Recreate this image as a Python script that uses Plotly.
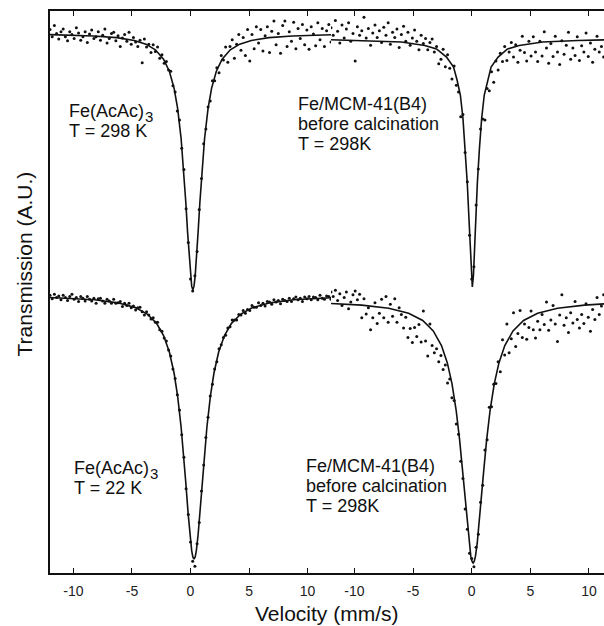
import plotly.graph_objects as go

# Mössbauer spectra: Fe(AcAc)3 (left) and Fe/MCM-41(B4) before calcination (right)
# Channel calibration: velocity of channel i = VEL_START + VEL_STEP * i  (mm/s)
VEL_START = -12.0
VEL_STEP = 0.1875

# Measured transmission (A.U.) per channel
FEACAC_298K = [
    96.7, 95.4, 97.4, 96.0, 95.0, 96.3, 96.8, 95.4, 94.7, 96.3,
    95.8, 95.1, 97.0, 96.1, 94.8, 95.4, 96.3, 94.4, 95.9, 96.6,
    95.1, 95.4, 96.3, 94.8, 95.7, 96.8, 94.3, 95.1, 96.0, 96.2,
    94.7, 95.6, 93.7, 95.2, 95.8, 94.6, 96.2, 94.1, 95.3, 94.5,
    93.7, 94.8, 90.8, 95.0, 93.6, 94.1, 92.6, 94.0, 92.8, 93.6,
    91.6, 92.2, 90.7, 91.0, 89.5, 89.3, 86.7, 85.6, 82.2, 80.6,
    75.6, 71.8, 64.8, 58.8, 52.3, 50.2, 52.9, 57.2, 64.7, 70.2,
    76.4, 79.0, 82.9, 84.0, 87.6, 87.6, 89.9, 89.0, 92.1, 91.3,
    93.6, 90.9, 93.7, 94.9, 91.6, 94.1, 95.8, 93.0, 95.3, 92.1,
    96.7, 91.1, 95.8, 93.3, 97.2, 94.3, 96.7, 92.9, 95.6, 97.2,
    92.6, 96.4, 98.2, 94.0, 96.0, 92.5, 97.4, 98.2, 93.7, 96.3,
    94.6, 98.0, 93.3, 96.9, 95.1, 97.6, 94.0, 96.6, 93.2, 97.2,
    95.9, 93.8, 97.9, 94.9, 96.9, 93.7, 96.5, 97.6, 94.5,
]
MCM41_TOP = [
    97.0, 95.7, 98.3, 96.4, 94.3, 97.5, 95.2, 96.8, 97.9, 94.6,
    96.0, 91.1, 97.2, 95.7, 96.5, 98.9, 95.2, 96.9, 93.9, 96.1,
    97.5, 95.3, 96.5, 94.4, 97.1, 95.7, 97.9, 94.1, 96.2, 95.3,
    96.8, 93.5, 95.8, 97.3, 94.6, 96.2, 93.9, 95.2, 96.6, 94.6,
    93.1, 95.7, 94.2, 95.1, 93.1, 94.4, 95.0, 92.7, 93.7, 90.6,
    91.4, 93.2, 90.1, 92.2, 89.8, 87.9, 90.2, 86.8, 85.6, 81.2,
    81.6, 74.8, 69.6, 60.1, 52.3, 54.5, 65.5, 71.9, 79.0, 80.8,
    80.6, 86.2, 85.8, 89.2, 87.3, 91.1, 89.5, 92.5, 91.0, 93.7,
    91.2, 92.7, 94.4, 91.8, 94.0, 90.9, 93.0, 95.5, 92.6, 91.1,
    94.6, 92.0, 95.4, 92.7, 91.0, 94.6, 92.0, 96.3, 93.4, 90.7,
    94.2, 91.9, 95.5, 92.7, 90.5, 94.7, 92.3, 93.9, 96.2, 91.4,
    93.4, 92.1, 95.4, 91.2, 93.8, 92.7, 96.1, 91.9, 94.3, 90.9,
    93.2, 95.5, 92.7, 93.7, 91.8, 95.1, 93.2, 92.1, 94.3,
]
FEACAC_22K = [
    49.4, 48.8, 49.6, 49.0, 49.3, 48.6, 49.4, 49.0, 48.5, 49.2,
    49.6, 48.7, 49.0, 48.3, 49.2, 48.9, 48.4, 49.2, 48.7, 48.4,
    48.9, 48.0, 48.8, 48.9, 48.4, 48.0, 48.7, 48.4, 48.0, 48.7,
    48.0, 48.1, 48.3, 47.4, 48.0, 47.6, 48.0, 47.2, 47.5, 46.8,
    47.2, 47.3, 46.5, 45.9, 46.5, 45.9, 45.2, 45.4, 44.6, 44.6,
    43.3, 43.0, 41.8, 41.3, 39.7, 38.6, 36.3, 34.6, 31.7, 29.0,
    24.6, 20.6, 15.0, 10.4, 5.5, 2.1, 1.2, 5.2, 9.0, 14.6,
    19.2, 24.1, 27.7, 31.5, 33.6, 36.3, 37.6, 39.9, 40.6, 41.9,
    42.3, 43.6, 43.8, 45.0, 45.0, 45.0, 46.0, 45.9, 46.7, 46.2,
    46.9, 46.7, 47.6, 47.3, 47.3, 48.1, 47.6, 48.0, 47.5, 48.3,
    48.2, 47.8, 48.6, 48.2, 48.5, 47.9, 48.7, 48.5, 48.3, 48.9,
    48.3, 48.8, 49.1, 48.6, 48.9, 48.3, 49.1, 48.8, 49.2, 48.6,
    49.1, 49.0, 48.6, 49.4, 48.9, 48.7, 49.3, 49.2, 48.7,
]
MCM41_BOTTOM = [
    50.0, 49.2, 50.3, 48.5, 49.7, 47.6, 49.0, 50.0, 47.0, 48.2,
    49.5, 50.2, 48.6, 49.6, 45.4, 48.8, 46.1, 47.2, 43.3, 45.4,
    48.1, 44.4, 46.2, 48.7, 45.4, 49.2, 44.6, 47.8, 45.7, 48.8,
    44.6, 47.2, 46.0, 43.6, 45.5, 41.9, 43.5, 41.0, 43.7, 42.1,
    44.2, 41.1, 46.6, 41.3, 38.6, 44.3, 40.5, 39.2, 39.9, 37.6,
    38.7, 36.2, 37.0, 33.8, 34.5, 31.2, 30.7, 26.5, 24.7, 19.9,
    16.8, 11.4, 7.8, 3.5, 2.6, 1.1, 4.6, 6.9, 12.6, 15.6,
    21.9, 23.7, 29.5, 29.6, 33.6, 33.7, 37.6, 35.8, 41.5, 38.8,
    44.3, 39.2, 41.7, 46.3, 40.3, 42.6, 46.7, 41.9, 44.3, 41.6,
    43.7, 46.6, 43.3, 41.8, 44.8, 43.3, 46.0, 44.2, 48.2, 43.2,
    45.0, 47.6, 44.3, 41.2, 45.9, 49.5, 44.1, 45.4, 42.8, 46.3,
    44.5, 48.3, 45.1, 43.6, 46.0, 44.4, 47.9, 45.5, 43.0, 46.9,
    45.1, 49.0, 46.0, 47.5, 49.5, 45.6, 48.8, 46.4, 49.9,
]

# Fitted curves (velocity mm/s, transmission A.U.)
FIT_298K_V = [-12.0, -8.3, -6.3, -4.8, -3.8, -3.0, -2.3, -1.8, -1.4, -1.1,
              -0.8, -0.6, -0.4, -0.25, -0.1, 0.0, 0.1, 0.2, 0.3, 0.4,
              0.5, 0.65, 0.8, 1.0, 1.2, 1.5, 1.8, 2.2, 2.7, 3.4,
              4.2, 5.2, 6.7, 8.7, 12.0]
FIT_298K_T = [95.79, 95.56, 95.26, 94.76, 94.10, 93.09, 91.42, 89.23, 86.24, 82.68,
              77.27, 72.22, 65.93, 60.66, 55.61, 52.88, 51.04, 50.40, 51.04, 52.88,
              55.61, 60.66, 65.93, 72.22, 77.27, 82.68, 86.24, 89.23, 91.42, 93.09,
              94.10, 94.76, 95.26, 95.56, 95.77]
FIT_MCM_TOP_V = [-12.0, -9.0, -6.0, -4.0, -3.0, -2.15, -1.55, -1.25, -0.97, -0.75,
                 -0.55, -0.38, -0.25, -0.16, -0.05, 0.05, 0.15, 0.26, 0.35, 0.48,
                 0.65, 0.85, 1.07, 1.35, 1.65, 2.25, 3.05, 4.05, 6.05, 9.05, 12.0]
FIT_MCM_TOP_T = [94.89, 94.75, 94.48, 93.86, 93.24, 91.81, 90.04, 87.72, 85.05, 80.96,
                 75.27, 69.40, 63.70, 59.25, 53.02, 50.89, 53.02, 59.25, 63.70, 69.40,
                 75.27, 80.96, 85.05, 87.72, 90.04, 91.81, 93.24, 93.86, 94.48, 94.75, 94.89]
FIT_22K_V = [-12.0, -8.2, -6.2, -4.7, -3.7, -2.9, -2.3, -1.8, -1.4, -1.1,
             -0.8, -0.6, -0.4, -0.2, -0.05, 0.1, 0.2, 0.3, 0.4, 0.5,
             0.65, 0.8, 1.0, 1.2, 1.4, 1.7, 2.0, 2.4, 2.9, 3.5,
             4.3, 5.3, 6.8, 8.8, 12.0]
FIT_22K_T = [49.01, 48.61, 48.07, 47.22, 46.08, 44.42, 42.26, 39.28, 35.54, 31.48,
             25.93, 21.29, 16.01, 10.52, 6.80, 3.99, 2.87, 2.49, 2.87, 3.99,
             6.80, 10.52, 16.01, 21.29, 25.93, 31.48, 35.54, 39.28, 42.26, 44.42,
             46.08, 47.22, 48.07, 48.61, 48.97]
FIT_MCM_BOT_V = [-12.0, -9.38, -7.08, -5.38, -4.18, -3.28, -2.58, -2.08, -1.68, -1.33,
                 -1.03, -0.78, -0.58, -0.38, -0.23, -0.08, 0.02, 0.12, 0.22, 0.32,
                 0.47, 0.62, 0.82, 1.02, 1.27, 1.57, 1.92, 2.32, 2.82, 3.52,
                 4.42, 5.62, 7.32, 9.62, 11.3]
FIT_MCM_BOT_T = [47.96, 47.67, 47.12, 46.23, 44.93, 43.07, 40.47, 37.39, 33.66, 29.00,
                 23.63, 18.13, 13.26, 8.44, 5.30, 2.99, 2.09, 1.78, 2.09, 2.99,
                 5.30, 8.44, 13.26, 18.13, 23.63, 29.00, 33.66, 37.39, 40.47, 43.07,
                 44.93, 46.23, 47.12, 47.67, 47.88]

TICK_VALS = [-10, -5, 0, 5, 10]
TICK_TEXT = ["-10", "-5", "0", "5", "10"]

INK = "#111111"
FONT = "Liberation Sans, Arial, Helvetica, sans-serif"

# Figure geometry (pixels)
W, H = 604, 626
ML, MR, MT, MB = 50, 0, 11, 53
PW, PH = W - ML - MR, H - MT - MB
SPLIT = 281 / PW  # left/right panel boundary in paper units


def velocities(counts):
    return [VEL_START + VEL_STEP * i for i in range(len(counts))]


fig = go.Figure()


def add_spectrum(xaxis, counts, fit_v, fit_t):
    fig.add_trace(go.Scatter(
        x=velocities(counts), y=counts, xaxis=xaxis, yaxis="y",
        mode="markers", marker=dict(size=3, color=INK, line=dict(width=0)),
        showlegend=False, hoverinfo="skip"))
    fig.add_trace(go.Scatter(
        x=fit_v, y=fit_t, xaxis=xaxis, yaxis="y",
        mode="lines", line=dict(color=INK, width=1.6),
        showlegend=False, hoverinfo="skip"))


add_spectrum("x", FEACAC_298K, FIT_298K_V, FIT_298K_T)
add_spectrum("x", FEACAC_22K, FIT_22K_V, FIT_22K_T)
add_spectrum("x2", MCM41_TOP, FIT_MCM_TOP_V, FIT_MCM_TOP_T)
add_spectrum("x2", MCM41_BOTTOM, FIT_MCM_BOT_V, FIT_MCM_BOT_T)

xaxis_common = dict(
    tickvals=TICK_VALS, ticktext=TICK_TEXT,
    ticks="inside", ticklen=5, tickwidth=1.2, tickcolor=INK,
    showline=True, linecolor=INK, linewidth=1.5, mirror="ticks",
    showgrid=False, zeroline=False, anchor="y",
    ticklabelstandoff=4,
    tickfont=dict(family=FONT, size=14, color="#222222"),
)


def px(x):
    return (x - ML) / PW


def py(y):
    return (H - MB - y) / PH


# Sample labels, one line each: text, left x, vertical centre, font size
labels = [
    ("Fe(AcAc)", 67, 111, 18),
    ("3", 143, 117, 15),
    ("T = 298 K", 67, 131, 18),
    ("Fe/MCM-41(B4)", 296, 103.5, 18),
    ("before calcination", 296, 123.5, 18),
    ("T = 298K", 296, 143.5, 18),
    ("Fe(AcAc)", 72, 467.5, 18),
    ("3", 148, 473.5, 15),
    ("T = 22 K", 72, 487.5, 18),
    ("Fe/MCM-41(B4)", 304, 466, 18),
    ("before calcination", 304, 486, 18),
    ("T = 298K", 304, 506, 18),
]
annotations = [
    dict(text=t, x=px(x), y=py(y), xref="paper", yref="paper",
         xanchor="left", yanchor="middle", showarrow=False,
         font=dict(family=FONT, size=s, color=INK))
    for t, x, y, s in labels
]
annotations.append(dict(
    text="Velocity (mm/s)", x=px(327), y=py(613), xref="paper", yref="paper",
    xanchor="center", yanchor="middle", showarrow=False,
    font=dict(family=FONT, size=21, color=INK)))
annotations.append(dict(
    text="Transmission (A.U.)", x=px(24), y=py(264.5), xref="paper", yref="paper",
    xanchor="center", yanchor="middle", showarrow=False, textangle=-90,
    font=dict(family=FONT, size=21, color=INK)))

fig.update_layout(
    width=W, height=H,
    margin=dict(l=ML, r=MR, t=MT, b=MB, pad=0),
    paper_bgcolor="white", plot_bgcolor="white",
    xaxis=dict(domain=[0, SPLIT], range=[-12, 12], **xaxis_common),
    xaxis2=dict(domain=[SPLIT, 1], range=[-12, 11.28], **xaxis_common),
    yaxis=dict(domain=[0, 1], range=[0, 100], showticklabels=False, ticks="",
               showline=True, linecolor=INK, linewidth=1.5, mirror=False,
               showgrid=False, zeroline=False, anchor="x"),
    annotations=annotations,
    showlegend=False,
)

fig.write_html("out.html")
